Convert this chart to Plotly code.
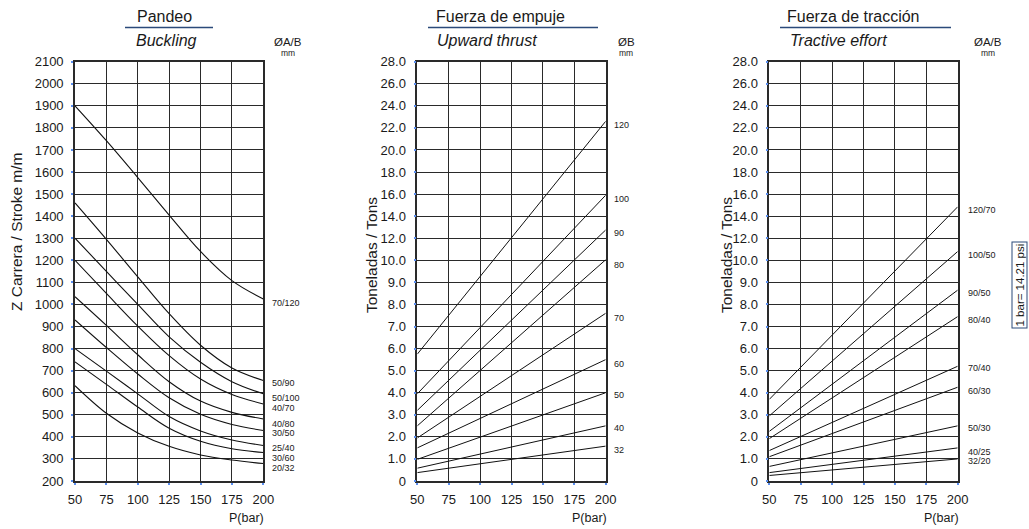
import plotly.graph_objects as go

W, H = 1029, 529

# ---------------- data ----------------
pressure = [50, 75, 100, 125, 150, 175, 200]

# Buckling (Pandeo): stroke in mm vs pressure, per rod/bore label
buckling_labels = ["70/120", "50/90", "50/100", "40/70", "40/80", "30/50", "25/40", "30/60", "20/32"]
buckling_values = [
    [1900, 1742, 1575, 1405, 1240, 1108, 1025],
    [1460, 1295, 1125, 958, 815, 712, 655],
    [1300, 1150, 1000, 853, 738, 650, 595],
    [1200, 1050, 902, 768, 662, 592, 549],
    [1035, 905, 772, 650, 562, 511, 481],
    [930, 805, 685, 577, 502, 456, 429],
    [800, 698, 595, 492, 427, 386, 361],
    [740, 638, 535, 439, 380, 346, 329],
    [632, 507, 418, 357, 318, 295, 279],
]
buckling_label_y = [1007, 644, 576, 531, 459, 418, 350, 305, 259]
buckling_ticks = list(range(200, 2101, 100))

# Upward thrust (Fuerza de empuje): tons at 50 and 200 bar
end_pressure = [50, 200]
thrust_labels = ["120", "100", "90", "80", "70", "60", "50", "40", "32"]
thrust_values = [
    [5.75, 22.6],
    [3.95, 15.9],
    [3.2, 12.75],
    [2.5, 10.05],
    [1.95, 7.6],
    [1.5, 5.5],
    [0.98, 4.0],
    [0.58, 2.5],
    [0.38, 1.58],
]
thrust_label_y = [22.3, 15.6, 12.5, 9.8, 7.4, 5.3, 3.9, 2.4, 1.4]

# Tractive effort (Fuerza de tracción): tons at 50 and 200 bar
traction_labels = ["120/70", "100/50", "90/50", "80/40", "70/40", "60/30", "50/30", "40/25", "32/20"]
traction_values = [
    [3.7, 14.85],
    [2.95, 10.8],
    [2.25, 8.65],
    [1.92, 7.45],
    [1.38, 5.2],
    [1.1, 4.25],
    [0.66, 2.5],
    [0.38, 1.5],
    [0.25, 1.0],
]
traction_label_y = [14.6, 10.5, 8.5, 7.3, 5.1, 4.1, 2.4, 1.3, 0.9]

ton_ticks = [0, 1, 2, 3, 4, 5, 6, 7, 8, 9, 10, 12, 14, 16, 18, 20, 22, 24, 26, 28]
x_ticks = [50, 75, 100, 125, 150, 175, 200]


def tpos(v):
    """Piecewise ton scale: 1 t per division up to 10, 2 t per division above."""
    return v if v <= 10 else 10 + (v - 10) / 2.0


def ton_text(v):
    return "0" if v == 0 else f"{v:.1f}"


# ---------------- styling ----------------
FONT = "Liberation Sans, Arial, sans-serif"
TXT = "#1a1a1a"
NAVY = "#2b4a7a"
GRID = "#2a2a2a"
TICKBLUE = "#5b8ff0"


def px(x):
    return x / W


def py(y):
    return 1 - y / H


panels = [
    dict(x0=75.0, x1=263.3),
    dict(x0=417.3, x1=605.7),
    dict(x0=769.3, x1=957.7),
]
Y_TOP, Y_BOT = 61.7, 481.0

fig = go.Figure()

for lab, vals in zip(buckling_labels, buckling_values):
    fig.add_trace(go.Scatter(x=pressure, y=vals, mode="lines", xaxis="x", yaxis="y",
                             line=dict(color="#111111", width=1.1, shape="spline", smoothing=1.0),
                             name=lab, showlegend=False, hoverinfo="skip"))
for lab, vals in zip(thrust_labels, thrust_values):
    fig.add_trace(go.Scatter(x=end_pressure, y=[tpos(v) for v in vals], mode="lines",
                             xaxis="x2", yaxis="y2", line=dict(color="#111111", width=1.0),
                             name=lab, showlegend=False, hoverinfo="skip"))
for lab, vals in zip(traction_labels, traction_values):
    fig.add_trace(go.Scatter(x=end_pressure, y=[tpos(v) for v in vals], mode="lines",
                             xaxis="x3", yaxis="y3", line=dict(color="#111111", width=1.0),
                             name=lab, showlegend=False, hoverinfo="skip"))

common_x = dict(range=[50, 200], tickvals=x_ticks, ticktext=[str(t) for t in x_ticks],
                showgrid=True, gridcolor=GRID, gridwidth=1.3, zeroline=False,
                showline=True, linecolor=GRID, linewidth=1.6, mirror=True,
                ticks="outside", ticklen=2, tickwidth=2, tickcolor=TICKBLUE,
                tickfont=dict(family=FONT, size=13, color=TXT), ticklabelstandoff=4,
                automargin=False, fixedrange=True)
common_y = dict(showgrid=True, gridcolor=GRID, gridwidth=1.3, zeroline=False,
                showline=True, linecolor=GRID, linewidth=1.6, mirror=True,
                ticks="outside", ticklen=2, tickwidth=2, tickcolor=TICKBLUE,
                tickfont=dict(family=FONT, size=13, color=TXT), ticklabelstandoff=5,
                automargin=False, fixedrange=True)

ydom = [py(Y_BOT), py(Y_TOP)]
layout = dict(
    width=W, height=H, margin=dict(l=0, r=0, t=0, b=0, pad=0), autosize=False,
    paper_bgcolor="white", plot_bgcolor="white", showlegend=False,
)
for i, p in enumerate(panels):
    sx = "" if i == 0 else str(i + 1)
    layout["xaxis" + sx] = dict(common_x, domain=[px(p["x0"]), px(p["x1"])], anchor="y" + sx)
    if i == 0:
        layout["yaxis"] = dict(common_y, domain=ydom, anchor="x", range=[200, 2100],
                               tickvals=buckling_ticks, ticktext=[str(t) for t in buckling_ticks])
    else:
        layout["yaxis" + sx] = dict(common_y, domain=ydom, anchor="x" + sx, range=[0, tpos(28)],
                                    tickvals=[tpos(t) for t in ton_ticks],
                                    ticktext=[ton_text(t) for t in ton_ticks])
fig.update_layout(**layout)

ann = []
shapes = []


def text(x, y, s, size, italic=False, xanchor="center", angle=0, color=TXT, **kw):
    ann.append(dict(x=px(x), y=py(y), xref="paper", yref="paper", text=s, showarrow=False,
                    xanchor=xanchor, yanchor="middle", textangle=angle,
                    font=dict(family=FONT, size=size, color=color,
                              style="italic" if italic else "normal"), **kw))


titles = [
    ("Pandeo", "Buckling", 164, 166, 125, 213, "ØA/B", 288),
    ("Fuerza de empuje", "Upward thrust", 500, 487, 428, 598, "ØB", 626),
    ("Fuerza de tracción", "Tractive effort", 853, 838, 780, 951, "ØA/B", 988),
]
for t1, t2, cx1, cx2, ux0, ux1, unit, ux in titles:
    text(cx1, 17, t1, 16)
    text(cx2, 41, t2, 16, italic=True)
    shapes.append(dict(type="line", xref="paper", yref="paper", x0=px(ux0), x1=px(ux1),
                       y0=py(27.5), y1=py(27.5), line=dict(color=NAVY, width=1.3)))
    text(ux, 42, unit, 11.5, borderpad=0)
    text(ux, 53, "mm", 8.5, borderpad=0)

text(17, 232, "Z Carrera / Stroke m/m", 15.5, angle=-90)
text(372, 255, "Toneladas / Tons", 15.5, angle=-90)
text(727, 255, "Toneladas / Tons", 15.5, angle=-90)

for xr in [263.3, 605.7, 957.7]:
    text(xr + 2, 518, "P(bar)", 12.5, xanchor="right", borderpad=0)

for lab, yv in zip(buckling_labels, buckling_label_y):
    ann.append(dict(x=200, y=yv, xref="x", yref="y", text=lab, showarrow=False, xanchor="left",
                    yanchor="middle", xshift=7, font=dict(family=FONT, size=9, color=TXT)))
for lab, yv in zip(thrust_labels, thrust_label_y):
    ann.append(dict(x=200, y=tpos(yv), xref="x2", yref="y2", text=lab, showarrow=False,
                    xanchor="left", yanchor="middle", xshift=6,
                    font=dict(family=FONT, size=9, color=TXT)))
for lab, yv in zip(traction_labels, traction_label_y):
    ann.append(dict(x=200, y=tpos(yv), xref="x3", yref="y3", text=lab, showarrow=False,
                    xanchor="left", yanchor="middle", xshift=8,
                    font=dict(family=FONT, size=9, color=TXT)))

ann.append(dict(x=px(1019.5), y=py(285), xref="paper", yref="paper", text="1 bar= 14.21 psi",
                showarrow=False, textangle=-90, xanchor="center", yanchor="middle",
                bordercolor=NAVY, borderwidth=1, borderpad=1,
                font=dict(family=FONT, size=11.5, color=TXT)))

fig.update_layout(annotations=ann, shapes=shapes)
fig.write_html("out.html")
